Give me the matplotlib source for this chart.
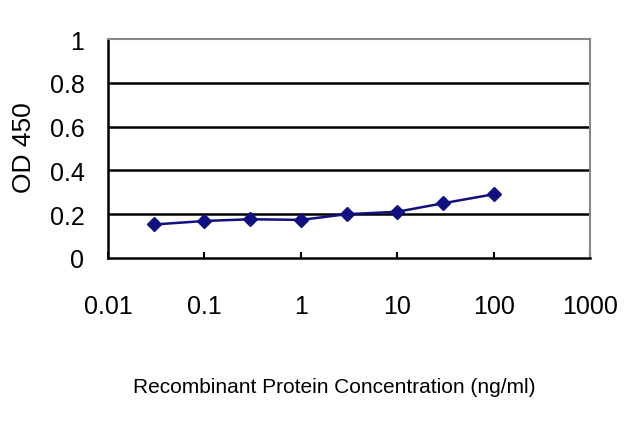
import matplotlib
matplotlib.use("Agg")  # без GUI
import matplotlib.pyplot as plt
from matplotlib.ticker import FixedLocator, FixedFormatter, NullLocator

# дані
conc = [0.03, 0.1, 0.3, 1, 3, 10, 30, 100]
od450 = [0.153, 0.169, 0.177, 0.174, 0.200, 0.211, 0.250, 0.291]

x_ticks = [0.01, 0.1, 1, 10, 100, 1000]
x_labels = ["0.01", "0.1", "1", "10", "100", "1000"]
y_ticks = [0, 0.2, 0.4, 0.6, 0.8, 1]
y_labels = ["0", "0.2", "0.4", "0.6", "0.8", "1"]

plt.rcParams['font.family'] = ['Liberation Sans', 'DejaVu Sans']

fig = plt.figure(figsize=(6.4, 4.27), dpi=100)
ax = fig.add_axes([108 / 640, 1 - 259 / 427, 482 / 640, 219 / 427])

ax.set_xscale('log')
ax.set_xlim(0.01, 1000)
ax.set_ylim(0, 1)

# горизонтальні лінії сітки
for v in y_ticks[1:-1]:
    ax.axhline(v, color='black', lw=1.8, zorder=1)

ax.plot(conc, od450, color='#101080', lw=1.8, marker='D', markersize=7,
        markerfacecolor='#101080', markeredgecolor='#101080', zorder=3)

ax.xaxis.set_major_locator(FixedLocator(x_ticks))
ax.xaxis.set_major_formatter(FixedFormatter(x_labels))
ax.xaxis.set_minor_locator(NullLocator())
ax.yaxis.set_major_locator(FixedLocator(y_ticks))
ax.yaxis.set_major_formatter(FixedFormatter(y_labels))

ax.tick_params(axis='x', direction='in', length=4, width=1.5, pad=26,
               labelsize=18, colors='black')
ax.tick_params(axis='y', length=0, pad=17, labelsize=18)

for side in ['left', 'bottom']:
    ax.spines[side].set_color('black')
    ax.spines[side].set_linewidth(1.8)
for side in ['top', 'right']:
    ax.spines[side].set_color('#888888')
    ax.spines[side].set_linewidth(1.5)

fig.text(24 / 640, 1 - 148 / 427, "OD 450", rotation=90, fontsize=19,
         ha='center', va='center')
fig.text(334 / 640, 1 - 388 / 427, "Recombinant Protein Concentration (ng/ml)",
         fontsize=15, ha='center', va='center')

fig.savefig("out.png", dpi=100)
plt.close(fig)
